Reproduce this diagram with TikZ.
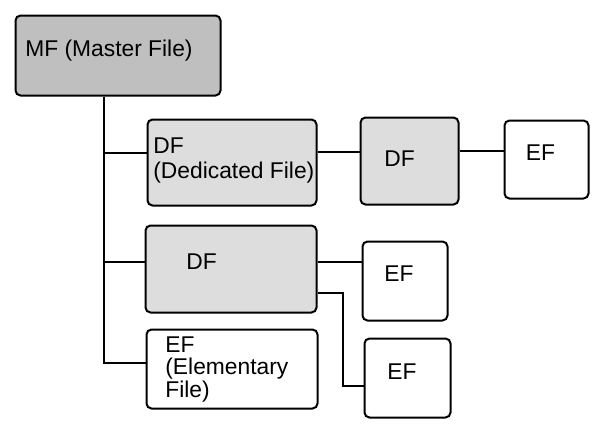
\documentclass[tikz,border=0pt]{standalone}
\usepackage{fontspec}
\setmainfont{Liberation Sans}

\begin{document}
\begin{tikzpicture}[x=0.5pt, y=-0.5pt]
			\tikzstyle{file}=[draw, line width=1pt, rounded corners=2.5pt, inner sep=0pt]
			\tikzstyle{mfile}=[file, fill=gray!50]
			\tikzstyle{dfile}=[file, fill=gray!27]
			\tikzstyle{efile}=[file, fill=white]
			\tikzstyle{lbl}=[
			anchor=base west, inner sep=0pt, align=left,
			font=\fontsize{11.4pt}{12.5pt}\selectfont
			]
			\tikzstyle{link}=[line width=1pt]
			
			\useasboundingbox (0,0) rectangle (600,435);
			
			\node[mfile, minimum width=102.5pt, minimum height=40pt] (mf) at (118,55.5) {};
			\node[dfile, minimum width=84.5pt, minimum height=43pt] (dfa) at (232,162.5) {};
			\node[dfile, minimum width=49pt, minimum height=43.5pt] (dfb) at (409.5,161) {};
			\node[efile, minimum width=42pt, minimum height=39pt] (efa) at (546.5,159.5) {};
			\node[dfile, minimum width=85.5pt, minimum height=43.5pt] (dfc) at (231,269) {};
			\node[efile, minimum width=42.5pt, minimum height=39.5pt] (efb) at (405,281) {};
			\node[efile, minimum width=43pt, minimum height=39.5pt] (efc) at (407.5,378) {};
			\node[efile, minimum width=85.5pt, minimum height=39.5pt] (efd) at (232,369) {};
			
			\node[lbl] (mf-t) at (25,56) {MF (Master File)};
			\node[lbl] (dfa-t) at (153,178) {DF\\(Dedicated File)};
			\node[lbl] (dfb-t) at (384,166.7) {DF};
			\node[lbl] (efa-t) at (525.5,160) {EF};
			\node[lbl] (dfc-t) at (186,269) {DF};
			\node[lbl] (efb-t) at (384,281) {EF};
			\node[lbl] (efc-t) at (387,379) {EF};
			\node[lbl, font=\fontsize{11.4pt}{11.25pt}\selectfont] (efd-t) at (165,397) {EF\\(Elementary\\File)};
			
			\draw[link] ([xshift=-7pt]mf.south) |- ([yshift=3pt]efd.west);
			\draw[link] ([yshift=4.75pt]dfa.west) -- ++(-21.5pt,0);
			\draw[link] ([yshift=3.5pt]dfc.west) -- ++(-20.5pt,0);
			\draw[link] ([yshift=5.25pt]dfa.east) -- ([yshift=4.5pt]dfb.west);
			\draw[link] ([yshift=5pt]dfb.east) -- ([yshift=4.25pt]efa.west);
			\draw[link] ([yshift=3.75pt]dfc.east) -- ([yshift=9.75pt]efb.west);
			\draw[link] ([yshift=-12pt]dfc.east) -- ++(12.5pt,0) |- ([yshift=-4pt]efc.west);
		\end{tikzpicture}
\end{document}
